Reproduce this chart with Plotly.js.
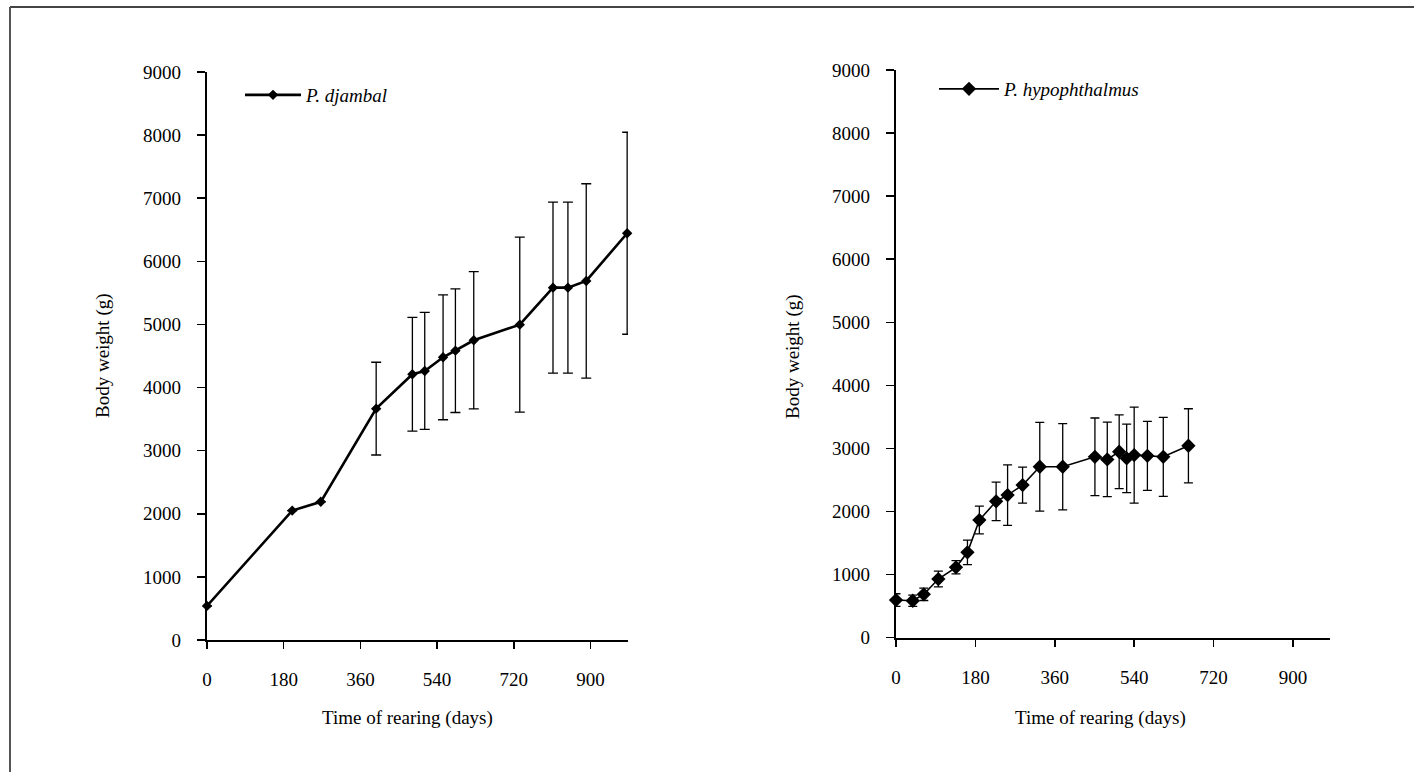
<!DOCTYPE html>
<html>
<head>
<meta charset="utf-8">
<script src="https://cdn.plot.ly/plotly-3.0.1.min.js"></script>
<style>
html,body{margin:0;padding:0;background:#fff;}
#chart{width:1414px;height:772px;}
</style>
</head>
<body>
<div id="chart"></div>
<script>
// P. djambal
const djDays = [0, 200, 267, 397, 482, 511, 554, 583, 626, 734, 812, 847, 890, 986];
const djWeight = [540, 2050, 2190, 3666, 4211, 4263, 4480, 4585, 4749, 4997, 5583, 5583, 5689, 6445];
const djSD = [0, 0, 0, 735, 900, 927, 990, 980, 1088, 1385, 1355, 1355, 1540, 1600];

// P. hypophthalmus
const hyDays = [0, 38, 63, 96, 136, 162, 189, 227, 253, 287, 326, 378, 451, 479, 506, 523, 540, 570, 606, 663];
const hyWeight = [597, 586, 688, 930, 1116, 1353, 1865, 2162, 2261, 2420, 2710, 2710, 2868, 2827, 2948, 2843, 2895, 2884, 2868, 3043];
const hySD = [100, 90, 98, 125, 105, 195, 220, 305, 480, 285, 703, 685, 615, 590, 586, 542, 761, 547, 626, 587];

const yTicks = [0, 1000, 2000, 3000, 4000, 5000, 6000, 7000, 8000, 9000];
const xTicks = [0, 180, 360, 540, 720, 900];

const xTitle = 'Time of rearing (days)';
const yTitle = 'Body weight (g)';

const W = 1414, H = 772;
const FONT = 'Liberation Serif, Times New Roman, serif';

const traces = [
  {
    x: djDays, y: djWeight, type: 'scatter', mode: 'lines+markers',
    name: '<i>P. djambal</i>', xaxis: 'x', yaxis: 'y', legend: 'legend',
    line: {color: '#000', width: 2.6},
    marker: {symbol: 'diamond', size: 8, color: '#000'},
    error_y: {type: 'data', array: djSD, visible: true, color: '#000', thickness: 1.3, width: 5},
    cliponaxis: false
  },
  {
    x: hyDays, y: hyWeight, type: 'scatter', mode: 'lines+markers',
    name: '<i>P. hypophthalmus</i>', xaxis: 'x2', yaxis: 'y2', legend: 'legend2',
    line: {color: '#000', width: 1.6},
    marker: {symbol: 'diamond', size: 11, color: '#000'},
    error_y: {type: 'data', array: hySD, visible: true, color: '#000', thickness: 1.3, width: 4.5},
    cliponaxis: false
  }
];

function xAx(domain, range) {
  return {
    domain: domain, range: range, tickmode: 'array', tickvals: xTicks,
    ticks: 'outside', ticklen: 7, tickwidth: 1.5, tickcolor: '#000',
    showline: true, linecolor: '#000', linewidth: 2,
    showgrid: false, zeroline: false, ticklabelstandoff: 14,
    tickfont: {family: FONT, size: 19, color: '#000'}
  };
}
function yAx(domain, anchor) {
  return {
    domain: domain, range: [0, 9000], tickmode: 'array', tickvals: yTicks,
    ticks: 'outside', ticklen: 8, tickwidth: 1.5, tickcolor: '#000',
    showline: true, linecolor: '#000', linewidth: 2.2, anchor: anchor,
    showgrid: false, zeroline: false, ticklabelstandoff: 12,
    tickfont: {family: FONT, size: 19, color: '#000'}
  };
}

const layout = {
  width: W, height: H,
  margin: {l: 0, r: 0, t: 0, b: 0},
  paper_bgcolor: '#fff', plot_bgcolor: 'rgba(0,0,0,0)',
  font: {family: FONT, color: '#000'},
  xaxis: Object.assign(xAx([207/W, 628/W], [0, 988]), {anchor: 'y'}),
  yaxis: yAx([(H-640)/H, (H-72)/H], 'x'),
  xaxis2: Object.assign(xAx([896/W, 1330/W], [0, 984]), {anchor: 'y2'}),
  yaxis2: yAx([(H-637.7)/H, (H-70)/H], 'x2'),
  showlegend: true,
  legend: {x: 240/W, y: (H-76)/H, xanchor: 'left', yanchor: 'top', bgcolor: 'rgba(0,0,0,0)',
           itemwidth: 56, font: {family: FONT, size: 19, color: '#000'}},
  legend2: {x: 934/W, y: (H-70)/H, xanchor: 'left', yanchor: 'top', bgcolor: 'rgba(0,0,0,0)',
           itemwidth: 60, font: {family: FONT, size: 19, color: '#000'}},
  annotations: [
    {text: yTitle, xref: 'paper', yref: 'paper', x: 103/W, y: (H-356)/H, textangle: -90,
     showarrow: false, xanchor: 'center', yanchor: 'middle', font: {family: FONT, size: 19, color: '#000'}},
    {text: yTitle, xref: 'paper', yref: 'paper', x: 793/W, y: (H-357)/H, textangle: -90,
     showarrow: false, xanchor: 'center', yanchor: 'middle', font: {family: FONT, size: 19, color: '#000'}},
    {text: xTitle, xref: 'paper', yref: 'paper', x: 407/W, y: (H-718)/H,
     showarrow: false, xanchor: 'center', yanchor: 'middle', font: {family: FONT, size: 19, color: '#000'}},
    {text: xTitle, xref: 'paper', yref: 'paper', x: 1100/W, y: (H-718)/H,
     showarrow: false, xanchor: 'center', yanchor: 'middle', font: {family: FONT, size: 19, color: '#000'}}
  ],
  shapes: [
    {type: 'line', xref: 'paper', yref: 'paper', x0: 10/W, x1: 1, y0: (H-7)/H, y1: (H-7)/H,
     line: {color: '#444', width: 2}},
    {type: 'line', xref: 'paper', yref: 'paper', x0: 10/W, x1: 10/W, y0: 0, y1: (H-7)/H,
     line: {color: '#555', width: 2}}
  ]
};

Plotly.newPlot('chart', traces, layout, {displayModeBar: false, staticPlot: true});
</script>
</body>
</html>
